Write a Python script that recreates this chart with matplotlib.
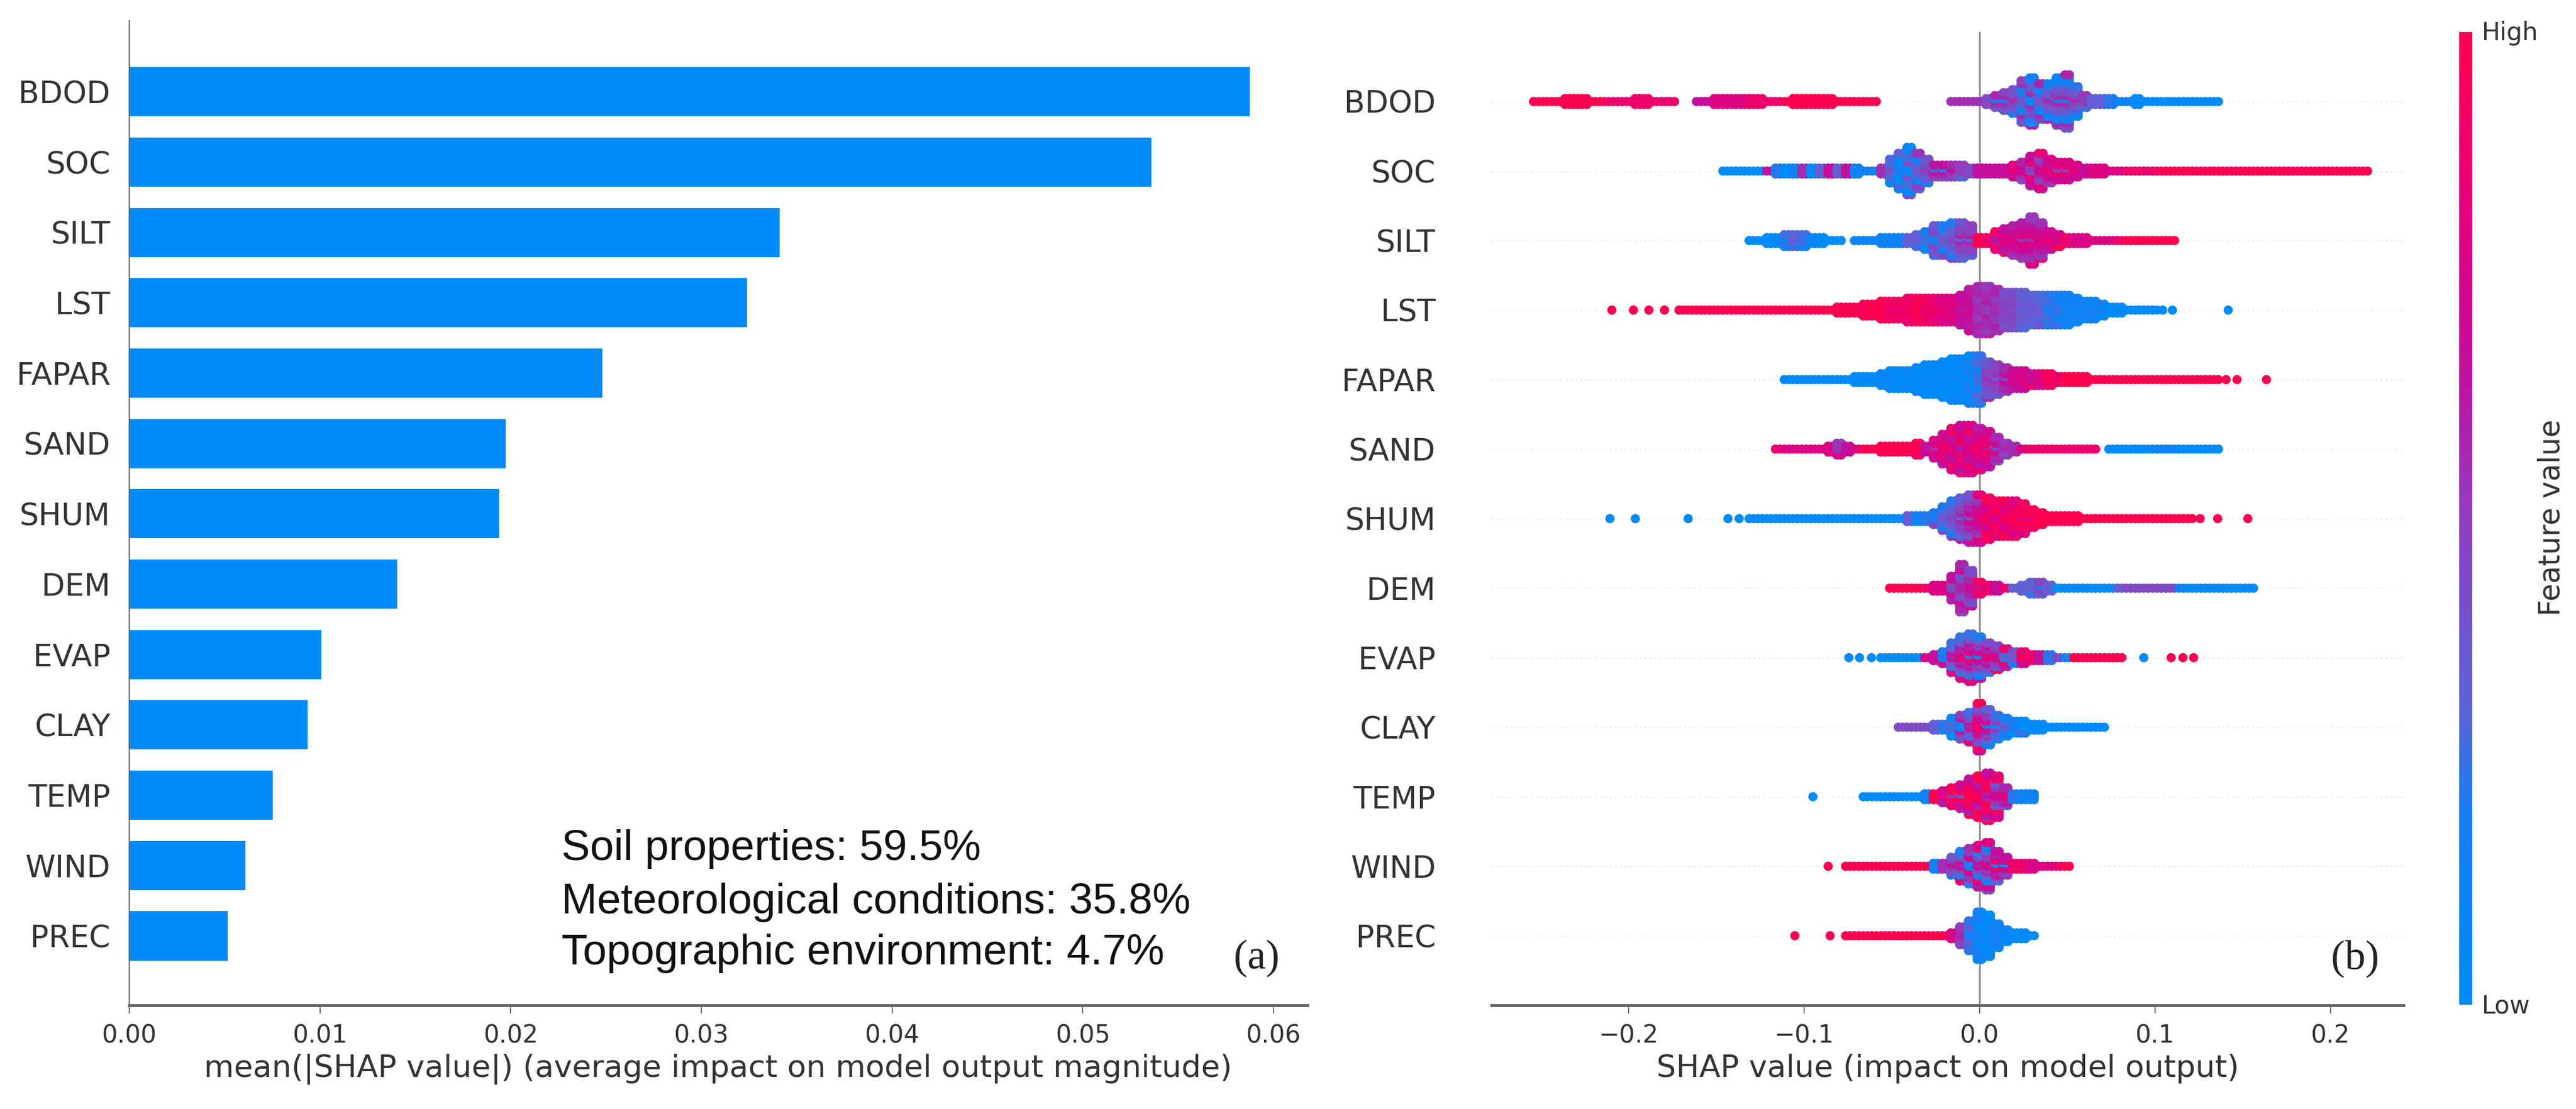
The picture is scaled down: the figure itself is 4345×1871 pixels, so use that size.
import numpy as np, matplotlib; matplotlib.use('Agg')
import matplotlib.pyplot as plt
from matplotlib.cm import ScalarMappable
from matplotlib.colors import LinearSegmentedColormap

FEATURES = ['BDOD', 'SOC', 'SILT', 'LST', 'FAPAR', 'SAND', 'SHUM', 'DEM', 'EVAP', 'CLAY', 'TEMP', 'WIND', 'PREC']
MEAN_SHAP = [.05876, .0536, .0341, .0324, .0248, .01973, .01941, .01405, .01007, .00937, .00752, .00609, .00516]
BAR_TICKS = [0.00, 0.01, 0.02, 0.03, 0.04, 0.05, 0.06]
SWARM_TICKS = [-0.2, -0.1, 0.0, 0.1, 0.2]
NOTES = ['Soil properties: 59.5%', 'Meteorological conditions: 35.8%', 'Topographic environment: 4.7%']

# swarm: histogram columns of width BIN_W from *_FROM,
# N = dots stacked either side of the row (-1 = empty), C = feature value 0-9
BIN_W = 0.005
BDOD_FROM = -0.25
BDOD_N = [0,0,0,1,1,1,0,0,0,0,0,1,1,0,0,0,-1,-1,0,0,1,1,1,1,1,1,0,0,0,1,1,1,1,1,0,0,0,0,0,
          -1,-1,-1,-1,-1,-1,-1,-1,0,0,0,0,1,2,3,4,7,8,6,6,8,9,5,2,1,1,1,0,0,1,0,0,0,0,0,0,0,0,0]
BDOD_C = [9,9,9,9,9,9,9,9,8,8,8,8,8,8,8,8,0,0,6,6,7,7,7,7,8,8,8,8,9,9,9,9,9,9,9,9,9,9,9,
          0,0,0,0,0,0,0,0,5,5,5,5,4,3,3,3,3,3,3,3,3,3,3,4,3,3,2,1,1,0,0,0,0,0,0,0,0,0,0]
BDOD_LONE = [-0.2541]; BDOD_LONE_C = [9]

SOC_FROM = -0.145
SOC_N = [0,0,0,0,0,0,1,1,1,1,1,1,1,1,1,1,0,0,1,4,6,8,6,4,2,2,2,2,1,1,1,1,1,2,3,5,6,4,3,3,2,1,1,1,0,0,0,0,0,0,0,0,0,0,0,
         0,0,0,0,0,0,0,0,0,0,0,0,0,0,0,0,0,0,0]
SOC_C = [0,0,0,0,0,6,2,0,1,5,0,3,6,3,6,1,1,1,5,2,1,2,3,3,4,4,4,4,4,6,6,6,6,6,6,6,6,6,6,6,6,6,7,7,7,7,8,8,8,8,9,9,9,9,9,
         9,9,9,9,9,9,9,9,9,9,9,9,9,9,9,9,9,9,9]

SILT_FROM = -0.13
SILT_N = [0,0,1,1,2,2,2,1,1,0,0,-1,0,0,0,1,1,1,1,2,3,5,5,6,6,5,1,1,3,4,5,6,8,6,3,2,1,1,1,0,0,0,0,0,0,0,0,0,0]
SILT_C = [0,0,0,0,1,2,2,1,0,0,0,0,1,1,1,1,1,1,3,2,2,3,3,3,4,4,9,8,7,7,6,6,6,6,7,8,8,7,7,7,7,7,8,9,9,9,9,9,9]

LST_FROM = -0.17
LST_N = [0]*16 + [0,0,1,1,1,2,2,3,3,3,4,4,4,4,4,4,5,7,8,8,7,6,6,6,5,5,5,5,5,4,3,3,2,1,1,0,0,0,0]
LST_C = [9]*16 + [9,9,9,9,9,9,9,9,8,8,8,9,8,8,7,7,6,6,5,5,5,4,4,3,3,3,2,2,1,1,1,1,1,0,0,0,0,0,0]
LST_LONE = [-0.2095, -0.1972, -0.1884, -0.1795, 0.1045, 0.11, 0.1418]; LST_LONE_C = [9, 9, 9, 9, 0, 0, 0]

FAPAR_FROM = -0.11
FAPAR_N = [0,0,0,0,0,0,0,0,1,1,1,2,3,3,3,4,5,5,6,7,7,8,8,6,5,4,3,3,2,2,2,1,1,1,1,0,0,0,0,0,0,0,0,0,0,0,0,0,0,0]
FAPAR_C = [0,0,0,0,0,0,0,0,0,0,0,0,0,0,0,0,0,0,0,0,0,1,2,4,4,5,6,7,7,7,8,8,9,9,9,9,9,9,9,9,9,9,9,9,9,9,9,9,9,9]
FAPAR_LONE = [0.1406, 0.1468, 0.1636]; FAPAR_LONE_C = [9, 9, 9]

SAND_FROM = -0.115
SAND_N = [0,0,0,0,0,0,1,2,1,0,0,0,1,1,1,1,2,1,3,5,7,8,8,7,6,4,2,1,0,0,0,0,0,0,0,0,0,-1,0,0,0,0,0,0,0,0,0,0,0,0,0]
SAND_C = [8,7,7,7,7,7,7,6,6,7,9,9,9,9,9,9,8,6,6,7,7,7,7,7,7,5,4,5,7,8,8,8,8,8,8,8,8,0,0,0,0,0,0,1,1,1,0,0,0,0,0]

SHUM_FROM = -0.13
SHUM_N = [0]*13 + [0,0,0,0,0,1,1,1,2,4,6,7,8,8,7,6,6,6,5,3,2,1,1,1,1,0,0,0,0,0,0,0,0,0,0,0,0,0]
SHUM_C = [0]*13 + [0,0,0,0,0,3,1,2,3,3,3,4,5,6,8,8,8,8,8,8,9,9,9,9,9,9,9,9,9,9,9,9,9,9,9,9,9,9]
SHUM_LONE = [-0.2106, -0.1961, -0.166, -0.1433, -0.1369, 0.1258, 0.1358, 0.153]; SHUM_LONE_C = [0, 0, 0, 0, 0, 9, 9, 9]

DEM_FROM = -0.05
DEM_N = [0,0,0,0,0,1,1,4,8,6,2,1,1,0,0,1,2,2,1,0,0,0,0,0,0,0,0,0,0,0,0,0,0,0,0,0,0,0,0,0,0,0]
DEM_C = [9,9,9,9,8,7,7,5,5,5,7,8,6,8,3,3,2,3,3,0,0,0,0,0,0,0,3,4,4,4,4,4,4,1,0,0,0,0,0,0,0,0]

EVAP_FROM = -0.055
EVAP_N = [0,0,0,0,0,0,1,2,5,7,8,7,5,4,3,2,2,1,1,1,0,0,0,0,0,0,0,0]
EVAP_C = [0,0,0,0,0,7,6,4,5,5,5,4,5,6,5,3,6,8,6,2,4,1,9,9,9,9,9,9]
EVAP_LONE = [-0.0744, -0.0683, -0.0615, 0.0937, 0.1093, 0.116, 0.1221]; EVAP_LONE_C = [0, 0, 0, 0, 9, 9, 9]

CLAY_FROM = -0.045
CLAY_N = [0,0,0,0,1,1,3,4,5,8,6,4,3,2,2,1,1,0,0,0,0,0,0,0]
CLAY_C = [4,4,4,4,3,2,2,3,5,6,4,2,1,1,0,0,0,0,0,0,0,0,0,0]

TEMP_FROM = -0.065
TEMP_N = [0,0,0,0,0,0,0,1,1,2,3,4,6,7,8,7,3,1,1,1]
TEMP_C = [0,0,0,0,0,0,0,1,9,5,7,6,8,8,8,6,5,2,1,1]
TEMP_LONE = [-0.0949]; TEMP_LONE_C = [0]

WIND_FROM = -0.075
WIND_N = [0]*10 + [1,1,3,5,6,7,8,5,3,1,1,1,0,0,0,0]
WIND_C = [9]*10 + [1,5,3,5,4,5,4,5,4,8,8,7,7,7,8,9]
WIND_LONE = [-0.0862]; WIND_LONE_C = [9]

PREC_FROM = -0.075
PREC_N = [0]*12 + [1,3,5,8,7,4,2,1,1,0]
PREC_C = [9]*12 + [7,5,2,1,0,1,0,0,0,0]
PREC_LONE = [-0.1052, -0.0851]; PREC_LONE_C = [9, 9]

SWARM = [(BDOD_FROM, BDOD_N, BDOD_C, BDOD_LONE, BDOD_LONE_C, .25), (SOC_FROM, SOC_N, SOC_C, [], [], .2),
         (SILT_FROM, SILT_N, SILT_C, [], [], .15), (LST_FROM, LST_N, LST_C, LST_LONE, LST_LONE_C, .05),
         (FAPAR_FROM, FAPAR_N, FAPAR_C, FAPAR_LONE, FAPAR_LONE_C, .1), (SAND_FROM, SAND_N, SAND_C, [], [], .15),
         (SHUM_FROM, SHUM_N, SHUM_C, SHUM_LONE, SHUM_LONE_C, .15), (DEM_FROM, DEM_N, DEM_C, [], [], .15),
         (EVAP_FROM, EVAP_N, EVAP_C, EVAP_LONE, EVAP_LONE_C, .3), (CLAY_FROM, CLAY_N, CLAY_C, [], [], .3),
         (TEMP_FROM, TEMP_N, TEMP_C, TEMP_LONE, TEMP_LONE_C, .3), (WIND_FROM, WIND_N, WIND_C, WIND_LONE, WIND_LONE_C, .35),
         (PREC_FROM, PREC_N, PREC_C, PREC_LONE, PREC_LONE_C, .1)]
SPECKLE = [-1, .3, 1, -.4, .6, -.8, .1]

W, H = 4345, 1871
TXT = '#333333'; AXC = '#666666'; BLUE = '#008bfb'
plt.rcParams['font.family'] = 'DejaVu Sans'
red_blue = LinearSegmentedColormap.from_list('red_blue', [(0, '#008bfb'), (.2, '#1a7cf0'), (.3, '#5a64d8'), (.5, '#8f3fbd'),
                                                          (.65, '#c0109f'), (.8, '#e00080'), (1, '#ff0051')])

def px_axes(x0, x1, y0, y1):
    return fig.add_axes([x0/W, 1-y1/H, (x1-x0)/W, (y1-y0)/H])

def style_bottom(ax, ypad):
    for s in ['top', 'right', 'left']:
        ax.spines[s].set_visible(False)
    ax.spines['bottom'].set_color(AXC); ax.spines['bottom'].set_linewidth(3.6)
    ax.tick_params(axis='x', length=10, width=1.3, color=AXC, labelsize=30, labelcolor=TXT, pad=12)
    ax.tick_params(axis='y', length=0, labelsize=37, labelcolor=TXT, pad=ypad)

fig = plt.figure(figsize=(W/100, H/100), dpi=100, facecolor='white')
rows = np.arange(len(FEATURES))[::-1]

# (a) mean |SHAP| bars
ax1 = px_axes(218, 2205, 35, 1696)
ax1.barh(rows, MEAN_SHAP, height=0.7, color=BLUE)
ax1.set_xlim(0, 0.06177); ax1.set_ylim(-0.986, 13.01)
style_bottom(ax1, 23)
ax1.spines['left'].set_visible(True); ax1.spines['left'].set_color(AXC); ax1.spines['left'].set_linewidth(1.4)
ax1.set_yticks(rows, FEATURES)
ax1.set_xticks(BAR_TICKS, [f'{t:.2f}' for t in BAR_TICKS])
ax1.set_xlabel('mean(|SHAP value|) (average impact on model output magnitude)', fontsize=37.5, color=TXT, labelpad=7)
for txt, yp in zip(NOTES, [1433, 1523, 1609]):
    fig.text(947/W, 1-yp/H, txt, family='Liberation Sans', fontsize=52, color='#111111', va='center')
fig.text(2119/W, 1-1617/H, '(a)', family='Liberation Serif', fontsize=50, color='#222222', ha='center', va='center')

# (b) beeswarm, each column drawn as two close dots so thin runs read as a solid strip
ax2 = px_axes(2516, 4054, 54, 1696)
ax2.set_xlim(-0.278, 0.2417); ax2.set_ylim(-1, 13)
ax2.axvline(0, color='#888888', lw=2, zorder=0)
DY = 5/117.25
for r, (x0, ns, cs, lone, lone_c, mix) in zip(rows, SWARM):
    ax2.axhline(r, color='#cccccc', lw=1, dashes=(1, 5), zorder=0)
    xs, ys, vals = list(lone), [r]*len(lone), [c/9 for c in lone_c]
    for i, (n, c) in enumerate(zip(ns, cs)):
        for j in range(-n, n+1) if n >= 0 else []:
            sp = mix*SPECKLE[(i*i+2*abs(j)+3*(j > 0)) % 7] if n >= 2 else 0
            for dx in (-BIN_W/4, BIN_W/4):
                xs.append(x0+i*BIN_W+dx); ys.append(r+j*DY); vals.append(np.clip(c/9+sp, 0, 1))
    ax2.scatter(xs, ys, c=vals, cmap=red_blue, vmin=0, vmax=1, s=125, linewidths=0, zorder=3)
style_bottom(ax2, 68)
ax2.set_yticks(rows, FEATURES)
ax2.set_xticks(SWARM_TICKS)
ax2.set_xlabel('SHAP value (impact on model output)', fontsize=37.5, color=TXT, labelpad=7)
fig.text(3972/W, 1-1617/H, '(b)', family='Liberation Serif', fontsize=50, color='#222222', ha='center', va='center')

# colour bar
cax = px_axes(4148, 4170, 54, 1695)
cb = fig.colorbar(ScalarMappable(cmap=red_blue), cax=cax)
cb.outline.set_visible(False); cb.set_ticks([])
fig.text(4186/W, 1-56/H, 'High', fontsize=30, color=TXT, va='center')
fig.text(4186/W, 1-1697/H, 'Low', fontsize=30, color=TXT, va='center')
fig.text(4303/W, 1-873/H, 'Feature value', fontsize=35, color=TXT, rotation=90, ha='center', va='center')

fig.savefig('out.png', dpi=100)
